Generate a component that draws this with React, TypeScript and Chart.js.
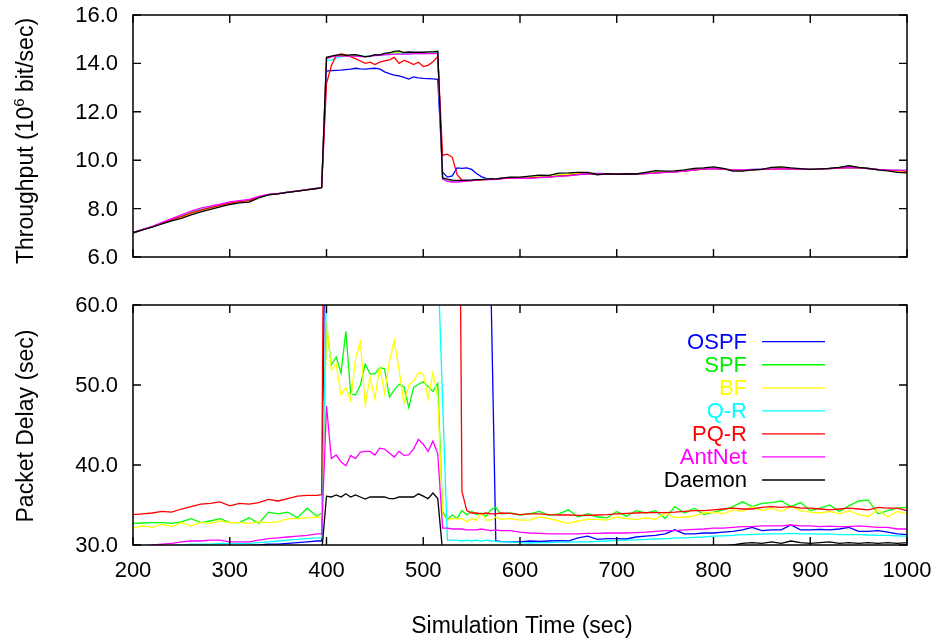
import { useEffect, useRef } from "react";
import { Chart, registerables } from "chart.js";

Chart.register(...registerables);

// ---------- data ----------
const times = [
  200, 210, 220, 230, 240, 250, 260, 270, 280, 290, 300, 310, 320, 330, 340, 350, 360, 370, 380, 390,
  395, 400, 405, 410, 415, 420, 425, 430, 435, 440, 445, 450, 455, 460, 465, 470, 475, 480, 485, 490,
  495, 500, 505, 510, 515, 520, 525, 530, 535, 540, 545, 550, 555, 560, 565, 570, 575, 580,
  590, 600, 610, 620, 630, 640, 650, 660, 670, 680, 690, 700, 710, 720, 730, 740, 750, 760, 770, 780,
  790, 800, 810, 820, 830, 840, 850, 860, 870, 880, 890, 900, 910, 920, 930, 940, 950, 960, 970, 980,
  990, 1000,
];

const xTicks = [200, 300, 400, 500, 600, 700, 800, 900, 1000];
const throughputTicks = [6, 8, 10, 12, 14, 16];
const delayTicks = [30, 40, 50, 60];

const seriesNames = ["OSPF", "SPF", "BF", "Q-R", "PQ-R", "AntNet", "Daemon"];
const seriesColors = ["#0000ff", "#00ff00", "#ffff00", "#00ffff", "#ff0000", "#ff00ff", "#000000"];
const legendTextColors = ["#0000ff", "#00ee00", "#ffff00", "#00ffff", "#ff0000", "#ff00ff", "#000000"];

// Throughput (10^6 bit/sec)
const thrOSPF = [
  7.00, 7.13, 7.25, 7.40, 7.54, 7.67, 7.82, 7.94, 8.04, 8.13, 8.23, 8.29, 8.33, 8.47, 8.58, 8.62, 8.68, 8.72, 8.78, 8.84,
  8.87, 13.68, 13.70, 13.71, 13.72, 13.74, 13.76, 13.80, 13.77, 13.76, 13.78, 13.80, 13.77, 13.65, 13.58, 13.52, 13.48, 13.42, 13.35, 13.44, 13.40, 13.38, 13.37, 13.36, 13.34,
  9.50, 9.30, 9.35, 9.68, 9.66, 9.68, 9.62, 9.45, 9.32, 9.25, 9.22, 9.22, 9.24,
  9.28, 9.27, 9.28, 9.30, 9.32, 9.35, 9.38, 9.42, 9.45, 9.44, 9.43, 9.42, 9.43, 9.43, 9.46, 9.49, 9.51, 9.53, 9.56, 9.60, 9.64,
  9.66, 9.63, 9.59, 9.58, 9.61, 9.62, 9.64, 9.66, 9.65, 9.63, 9.62, 9.63, 9.65, 9.67, 9.70, 9.68, 9.65, 9.61, 9.58, 9.56, 9.54,
];
const thrSPF = [
  7.00, 7.13, 7.25, 7.40, 7.54, 7.67, 7.82, 7.94, 8.04, 8.13, 8.23, 8.29, 8.33, 8.47, 8.58, 8.62, 8.68, 8.72, 8.78, 8.84,
  8.87, 14.22, 14.28, 14.32, 14.33, 14.32, 14.33, 14.33, 14.30, 14.28, 14.30, 14.34, 14.34, 14.38, 14.40, 14.43, 14.44, 14.42, 14.42, 14.43, 14.44, 14.43, 14.44, 14.44, 14.46,
  9.25, 9.18, 9.14, 9.14, 9.15, 9.16, 9.17, 9.19, 9.20, 9.21, 9.22, 9.22, 9.25,
  9.29, 9.28, 9.30, 9.33, 9.34, 9.40, 9.42, 9.45, 9.47, 9.42, 9.44, 9.42, 9.43, 9.43, 9.47, 9.52, 9.52, 9.54, 9.58, 9.63, 9.66,
  9.69, 9.65, 9.58, 9.58, 9.61, 9.62, 9.66, 9.68, 9.66, 9.64, 9.62, 9.63, 9.66, 9.69, 9.73, 9.70, 9.66, 9.61, 9.58, 9.55, 9.53,
];
const thrBF = [
  7.00, 7.13, 7.25, 7.39, 7.53, 7.66, 7.81, 7.93, 8.03, 8.12, 8.22, 8.28, 8.32, 8.46, 8.58, 8.62, 8.68, 8.72, 8.78, 8.84,
  8.87, 14.22, 14.28, 14.31, 14.33, 14.31, 14.32, 14.33, 14.30, 14.28, 14.30, 14.33, 14.34, 14.37, 14.39, 14.42, 14.43, 14.41, 14.41, 14.42, 14.43, 14.42, 14.43, 14.43, 14.45,
  9.25, 9.17, 9.13, 9.13, 9.14, 9.16, 9.17, 9.19, 9.20, 9.21, 9.22, 9.22, 9.25,
  9.29, 9.28, 9.29, 9.32, 9.33, 9.39, 9.41, 9.45, 9.47, 9.43, 9.44, 9.42, 9.43, 9.43, 9.46, 9.51, 9.52, 9.54, 9.58, 9.62, 9.66,
  9.69, 9.65, 9.58, 9.58, 9.61, 9.62, 9.66, 9.68, 9.66, 9.64, 9.62, 9.63, 9.66, 9.69, 9.73, 9.70, 9.66, 9.61, 9.58, 9.55, 9.52,
];
const thrQR = [
  7.00, 7.13, 7.26, 7.41, 7.56, 7.70, 7.85, 7.97, 8.06, 8.15, 8.25, 8.31, 8.35, 8.48, 8.58, 8.62, 8.68, 8.72, 8.78, 8.84,
  8.87, 14.10, 14.15, 14.22, 14.28, 14.30, 14.31, 14.31, 14.29, 14.29, 14.31, 14.33, 14.34, 14.36, 14.37, 14.39, 14.39, 14.39, 14.40, 14.41, 14.41, 14.41, 14.42, 14.42, 14.43,
  9.24, 9.15, 9.12, 9.12, 9.13, 9.15, 9.17, 9.19, 9.21, 9.21, 9.21, 9.22, 9.24,
  9.28, 9.26, 9.26, 9.29, 9.31, 9.34, 9.36, 9.41, 9.44, 9.45, 9.44, 9.42, 9.43, 9.43, 9.45, 9.48, 9.50, 9.52, 9.55, 9.60, 9.64,
  9.66, 9.64, 9.60, 9.60, 9.62, 9.63, 9.63, 9.64, 9.64, 9.62, 9.62, 9.63, 9.66, 9.68, 9.70, 9.69, 9.66, 9.62, 9.60, 9.59, 9.58,
];
const thrPQR = [
  7.00, 7.13, 7.25, 7.40, 7.54, 7.67, 7.82, 7.94, 8.04, 8.13, 8.23, 8.29, 8.33, 8.47, 8.58, 8.62, 8.68, 8.72, 8.78, 8.84,
  8.87, 13.17, 13.90, 14.33, 14.39, 14.35, 14.27, 14.20, 14.10, 14.00, 14.05, 13.95, 14.05, 14.10, 14.15, 14.25, 14.00, 14.12, 14.05, 13.95, 14.05, 13.87, 13.92, 14.07, 14.28,
  10.20, 10.25, 10.12, 9.40, 9.18, 9.16, 9.16, 9.18, 9.19, 9.20, 9.22, 9.21, 9.24,
  9.27, 9.26, 9.27, 9.29, 9.31, 9.34, 9.37, 9.41, 9.44, 9.44, 9.43, 9.42, 9.42, 9.43, 9.45, 9.48, 9.50, 9.52, 9.55, 9.59, 9.63,
  9.65, 9.63, 9.59, 9.58, 9.60, 9.62, 9.63, 9.65, 9.64, 9.62, 9.62, 9.63, 9.65, 9.67, 9.69, 9.68, 9.65, 9.61, 9.59, 9.57, 9.55,
];
const thrAntNet = [
  7.00, 7.14, 7.27, 7.43, 7.59, 7.74, 7.90, 8.02, 8.10, 8.18, 8.28, 8.33, 8.38, 8.50, 8.59, 8.62, 8.68, 8.73, 8.78, 8.84,
  8.87, 14.20, 14.27, 14.30, 14.30, 14.30, 14.30, 14.30, 14.28, 14.28, 14.30, 14.32, 14.33, 14.35, 14.36, 14.38, 14.38, 14.38, 14.38, 14.40, 14.40, 14.40, 14.40, 14.40, 14.42,
  9.22, 9.13, 9.10, 9.10, 9.12, 9.14, 9.16, 9.18, 9.20, 9.20, 9.20, 9.21, 9.23,
  9.27, 9.25, 9.25, 9.28, 9.30, 9.33, 9.35, 9.40, 9.44, 9.45, 9.44, 9.42, 9.43, 9.43, 9.45, 9.47, 9.50, 9.52, 9.55, 9.60, 9.64,
  9.66, 9.64, 9.60, 9.60, 9.62, 9.63, 9.63, 9.64, 9.64, 9.62, 9.62, 9.63, 9.66, 9.68, 9.70, 9.69, 9.66, 9.62, 9.60, 9.59, 9.58,
];
const thrDaemon = [
  7.00, 7.12, 7.23, 7.37, 7.49, 7.60, 7.74, 7.86, 7.97, 8.07, 8.17, 8.24, 8.27, 8.44, 8.57, 8.61, 8.67, 8.72, 8.77, 8.83,
  8.87, 14.25, 14.30, 14.34, 14.36, 14.33, 14.35, 14.36, 14.32, 14.27, 14.30, 14.36, 14.35, 14.41, 14.44, 14.50, 14.52, 14.45, 14.47, 14.46, 14.47, 14.46, 14.48, 14.48, 14.50,
  9.27, 9.22, 9.18, 9.17, 9.17, 9.18, 9.18, 9.20, 9.20, 9.22, 9.24, 9.22, 9.26,
  9.30, 9.30, 9.34, 9.38, 9.37, 9.47, 9.48, 9.50, 9.50, 9.40, 9.44, 9.42, 9.44, 9.43, 9.50, 9.57, 9.55, 9.56, 9.60, 9.66, 9.68,
  9.72, 9.66, 9.55, 9.55, 9.60, 9.62, 9.70, 9.72, 9.68, 9.65, 9.62, 9.64, 9.66, 9.70, 9.77, 9.70, 9.66, 9.60, 9.56, 9.50, 9.48,
];

// Packet Delay (sec) — values above 60 run off the top of the plot
const delOSPF = [
  29.5, 29.5, 29.5, 29.5, 29.5, 29.5, 29.5, 29.5, 29.5, 29.5, 29.5, 29.9, 29.95, 30.0, 30.1, 30.1, 30.2, 30.3, 30.4, 30.5,
  30.5, 90, 90, 90, 90, 90, 90, 90, 90, 90, 90, 90, 90, 90, 90, 90, 90, 90, 90, 90, 90, 90, 90, 90, 90,
  90, 90, 90, 90, 90, 90, 90, 90, 90, 90, 62, 30.5, 30.45,
  30.4, 30.4, 30.5, 30.45, 30.5, 30.55, 30.5, 30.9, 31.1, 30.7, 30.8, 30.8, 30.75, 31.0, 31.1, 31.2, 31.4, 31.9, 31.4, 31.4, 31.5,
  31.5, 31.6, 31.7, 31.9, 32.2, 31.8, 31.9, 31.9, 32.5, 31.9, 31.9, 31.95, 31.9, 32.0, 32.2, 31.7, 31.7, 31.8, 31.6, 31.4, 31.3,
];
const delSPF = [
  32.7, 32.75, 32.8, 32.8, 32.7, 32.9, 33.3, 32.8, 33.0, 33.3, 32.8, 32.8, 33.4, 32.7, 34.1, 33.9, 34.1, 33.4, 34.6, 33.6,
  34.0, 57.5, 52.5, 53.5, 51.5, 56.7, 48.9, 48.75, 50.0, 52.6, 51.4, 51.4, 52.2, 52.0, 48.5, 49.4, 50.1, 49.8, 47.2, 49.7, 50.1, 50.4, 49.8, 49.2, 50.2,
  34.2, 33.2, 33.75, 33.3, 34.3, 33.75, 34.2, 33.8, 34.0, 33.6, 34.4, 34.7, 33.9,
  34.0, 33.75, 33.9, 34.2, 33.7, 33.9, 34.4, 33.5, 33.9, 33.5, 33.4, 34.2, 33.6, 34.3, 34.0, 34.3, 33.3, 34.8, 34.0, 34.6, 33.8,
  34.1, 34.4, 34.8, 35.4, 34.8, 35.2, 35.3, 35.5, 34.8, 35.3, 34.3, 34.6, 35.0, 34.2, 34.9, 35.5, 35.6, 33.9, 34.3, 34.6, 34.7,
];
const delBF = [
  32.1, 32.4, 32.2, 32.6, 32.3, 32.8, 32.4, 32.8, 32.7, 33.0, 32.8, 32.8, 32.7, 32.9, 32.8, 32.9, 33.3, 33.3, 33.4, 33.5,
  33.4, 57.9, 51.9, 52.6, 48.75, 49.7, 48.1, 53.3, 55.4, 47.5, 51.0, 48.3, 52.3, 49.0, 52.9, 55.6, 51.9, 47.7, 50.0, 50.5, 51.5, 51.4, 48.3, 51.5, 48.5,
  33.8, 33.1, 33.3, 33.3, 33.3, 32.9, 33.3, 33.1, 34.0, 33.1, 33.1, 33.5, 33.2,
  33.3, 33.1, 33.1, 33.5, 33.3, 33.0, 32.7, 33.0, 33.2, 33.2, 33.1, 33.5, 33.3, 33.2, 33.4, 33.2, 34.0, 33.4, 33.5, 33.6, 34.0,
  34.1, 33.9, 34.4, 34.2, 34.8, 34.3, 34.6, 34.2, 34.8, 34.3, 34.1, 34.0, 34.2, 33.9, 34.3, 33.8, 33.6, 34.4, 33.5, 34.2, 33.9,
];
const delQR = [
  29.6, 29.7, 29.8, 29.9, 29.9, 30.0, 30.1, 30.1, 30.1, 30.2, 30.2, 30.2, 30.2, 30.3, 30.4, 30.5, 30.6, 30.7, 30.8, 30.9,
  30.9, 62, 150, 150, 150, 150, 150, 150, 150, 150, 150, 150, 150, 150, 150, 150, 150, 150, 150, 150, 150, 150, 150, 150, 66,
  48, 30.6, 30.6, 30.6, 30.5, 30.6, 30.5, 30.6, 30.5, 30.6, 30.5, 30.45, 30.4,
  30.4, 30.3, 30.25, 30.3, 30.3, 30.35, 30.35, 30.4, 30.4, 30.45, 30.5, 30.55, 30.6, 30.65, 30.7, 30.75, 30.8, 30.85, 30.9, 30.95, 31.0,
  31.1, 31.15, 31.2, 31.3, 31.3, 31.35, 31.4, 31.4, 31.45, 31.4, 31.4, 31.35, 31.4, 31.3, 31.3, 31.3, 31.25, 31.2, 31.2, 31.15, 31.1,
];
const delPQR = [
  33.8, 33.9, 34.0, 34.2, 34.1, 34.5, 34.8, 35.1, 35.2, 35.4, 34.9, 35.2, 35.1, 35.3, 35.7, 35.5, 35.8, 36.1, 36.2, 36.2,
  36.3, 120, 120, 120, 120, 120, 120, 120, 120, 120, 120, 120, 120, 120, 120, 120, 120, 120, 120, 120, 120, 120, 120, 120, 120,
  120, 120, 120, 120, 36.7, 34.3, 34.0, 34.0, 33.9, 34.0, 33.9, 33.9, 34.0,
  33.95, 33.8, 33.9, 33.9, 33.8, 33.75, 33.75, 33.7, 33.7, 33.75, 33.8, 33.9, 33.95, 34.0, 34.05, 34.05, 34.05, 34.1, 34.2, 34.3, 34.3,
  34.4, 34.5, 34.6, 34.5, 34.5, 34.7, 34.8, 34.7, 34.8, 34.6, 34.6, 34.5, 34.4, 34.5, 34.6, 34.5, 34.4, 34.7, 34.6, 34.6, 34.3,
];
const delAntNet = [
  29.7, 29.8, 30.0, 30.1, 30.2, 30.4, 30.5, 30.5, 30.6, 30.6, 30.4, 30.4, 30.4, 30.6, 30.8, 30.9, 31.0, 31.1, 31.2, 31.4,
  31.4, 47.4, 40.8, 41.25, 40.4, 39.9, 41.2, 40.8, 41.6, 41.7, 41.7, 41.25, 42.1, 42.0, 41.5, 41.0, 41.7, 41.2, 41.25, 42.0, 43.2, 42.6, 41.7, 43.0, 41.4,
  32.1, 32.1, 32.0, 32.0, 32.0, 31.9, 31.9, 31.9, 32.0, 31.9, 31.8, 31.9, 31.8,
  31.8, 31.6, 31.5, 31.45, 31.4, 31.4, 31.4, 31.4, 31.45, 31.45, 31.5, 31.5, 31.5, 31.55, 31.6, 31.7, 31.8, 31.8, 31.9, 31.95, 32.0,
  32.1, 32.1, 32.2, 32.3, 32.3, 32.4, 32.4, 32.4, 32.5, 32.4, 32.4, 32.3, 32.35, 32.3, 32.3, 32.4, 32.3, 32.2, 32.2, 32.0, 32.0,
];
const delDaemon = [
  29.2, 29.3, 29.2, 29.4, 29.3, 29.4, 29.5, 29.4, 29.5, 29.6, 29.5, 29.6, 29.6, 29.7, 29.6, 29.7, 29.7, 29.8, 29.7, 29.8,
  29.0, 36.1, 36.0, 36.25, 36.0, 36.4, 36.0, 36.25, 36.0, 35.75, 36.0, 36.0, 36.0, 36.0, 35.8, 35.8, 36.0, 36.0, 36.0, 36.0, 36.4, 36.1, 35.8, 36.5, 35.8,
  29.2, 29.3, 29.2, 29.3, 29.2, 29.3, 29.3, 29.2, 29.3, 29.3, 29.4, 29.3, 29.4,
  29.4, 29.5, 29.4, 29.5, 29.5, 29.6, 29.5, 29.6, 29.6, 29.6, 29.7, 29.6, 29.7, 29.7, 29.7, 29.8, 29.7, 29.8, 29.8, 29.8, 29.9,
  29.8, 29.9, 30.0, 30.2, 30.3, 30.2, 30.4, 30.2, 30.5, 30.3, 30.2, 30.3, 30.4, 30.2, 30.3, 30.2, 30.3, 30.2, 30.3, 30.2, 30.3,
];

const throughputSeries = [thrOSPF, thrSPF, thrBF, thrQR, thrPQR, thrAntNet, thrDaemon];
const delaySeries = [delOSPF, delSPF, delBF, delQR, delPQR, delAntNet, delDaemon];

// ---------- drawing helpers ----------
const FONT = "'Liberation Sans', Arial, Helvetica, sans-serif";
const PLOT_LEFT = 133;
const PLOT_RIGHT_PAD = 29;

function buildDatasets(series: number[][]) {
  return series.map((vals, i) => ({
    label: seriesNames[i],
    data: times.map((t, j) => ({ x: t, y: vals[j] })),
    borderColor: seriesColors[i],
    backgroundColor: seriesColors[i],
    borderWidth: 1.3,
    pointRadius: 0,
    tension: 0,
    fill: false,
    order: series.length - 1 - i,
  }));
}

// frame, inward ticks and tick labels (positions come from the chart's own scales)
function framePlugin(yTicks: number[], showXLabels: boolean) {
  return {
    id: "frame",
    afterDatasetsDraw(chart: any) {
      const { ctx, chartArea } = chart;
      const { left, right, top, bottom } = chartArea;
      const xs = chart.scales.x;
      const ys = chart.scales.y;
      ctx.save();
      ctx.strokeStyle = "#000";
      ctx.lineWidth = 1.4;
      ctx.beginPath();
      xTicks.forEach((v) => {
        const px = xs.getPixelForValue(v);
        ctx.moveTo(px, bottom);
        ctx.lineTo(px, bottom - 8);
        ctx.moveTo(px, top);
        ctx.lineTo(px, top + 8);
      });
      yTicks.forEach((v) => {
        const py = ys.getPixelForValue(v);
        ctx.moveTo(left, py);
        ctx.lineTo(left + 8, py);
        ctx.moveTo(right, py);
        ctx.lineTo(right - 8, py);
      });
      ctx.stroke();
      ctx.lineWidth = 1.5;
      ctx.strokeRect(left, top, right - left, bottom - top);

      ctx.fillStyle = "#000";
      ctx.font = `22px ${FONT}`;
      ctx.textAlign = "right";
      ctx.textBaseline = "middle";
      yTicks.forEach((v) => {
        ctx.fillText(v.toFixed(1), left - 15, ys.getPixelForValue(v) + 1);
      });
      if (showXLabels) {
        ctx.textAlign = "center";
        xTicks.forEach((v) => {
          ctx.fillText(String(v), xs.getPixelForValue(v), bottom + 26);
        });
      }
      ctx.restore();
    },
  };
}

function drawRotated(ctx: CanvasRenderingContext2D, cx: number, cy: number, parts: { text: string; size: number; rise: number }[]) {
  ctx.save();
  let total = 0;
  const widths = parts.map((p) => {
    ctx.font = `${p.size}px ${FONT}`;
    const w = ctx.measureText(p.text).width;
    total += w;
    return w;
  });
  ctx.translate(cx, cy);
  ctx.rotate(-Math.PI / 2);
  ctx.fillStyle = "#000";
  ctx.textAlign = "left";
  ctx.textBaseline = "alphabetic";
  let x = -total / 2;
  parts.forEach((p, i) => {
    ctx.font = `${p.size}px ${FONT}`;
    ctx.fillText(p.text, x, 8 - p.rise);
    x += widths[i];
  });
  ctx.restore();
}

const topTitlePlugin = {
  id: "topTitle",
  afterDraw(chart: any) {
    drawRotated(chart.ctx, 25, 141, [
      { text: "Throughput (10", size: 23, rise: 0 },
      { text: "6", size: 15, rise: 9 },
      { text: " bit/sec)", size: 23, rise: 0 },
    ]);
  },
};

const bottomTitlePlugin = {
  id: "bottomTitle",
  afterDraw(chart: any) {
    const ctx = chart.ctx as CanvasRenderingContext2D;
    drawRotated(ctx, 25, 136, [{ text: "Packet Delay (sec)", size: 23, rise: 0 }]);
    ctx.save();
    ctx.fillStyle = "#000";
    ctx.font = `23px ${FONT}`;
    ctx.textAlign = "center";
    ctx.textBaseline = "middle";
    ctx.fillText("Simulation Time (sec)", 522, 337);
    // legend
    ctx.font = `22px ${FONT}`;
    ctx.textAlign = "right";
    seriesNames.forEach((name, i) => {
      const y = 51.7 + i * 23.05;
      ctx.fillStyle = legendTextColors[i];
      ctx.fillText(name, 747, y + 1);
      ctx.strokeStyle = seriesColors[i];
      ctx.lineWidth = 1.3;
      ctx.beginPath();
      ctx.moveTo(762, y);
      ctx.lineTo(825, y);
      ctx.stroke();
    });
    ctx.restore();
  },
};

function makeConfig(series: number[][], yMin: number, yMax: number, yTicks: number[], showX: boolean, bottomPad: number, xHeight: number, extra: any) {
  return {
    type: "line" as const,
    data: { datasets: buildDatasets(series) },
    options: {
      animation: false as const,
      responsive: false,
      maintainAspectRatio: false,
      layout: { padding: { left: 0, right: PLOT_RIGHT_PAD, top: 15, bottom: bottomPad } },
      plugins: { legend: { display: false }, tooltip: { enabled: false } },
      scales: {
        x: {
          type: "linear" as const,
          min: 200,
          max: 1000,
          grid: { display: false, drawTicks: false },
          border: { display: false },
          afterBuildTicks: (s: any) => {
            s.ticks = xTicks.map((v) => ({ value: v }));
          },
          afterFit: (s: any) => {
            s.height = xHeight;
          },
          ticks: { display: false },
        },
        y: {
          type: "linear" as const,
          min: yMin,
          max: yMax,
          grid: { display: false, drawTicks: false },
          border: { display: false },
          afterBuildTicks: (s: any) => {
            s.ticks = yTicks.map((v) => ({ value: v }));
          },
          afterFit: (s: any) => {
            s.width = PLOT_LEFT;
          },
          ticks: { display: false },
        },
      },
    },
    plugins: [framePlugin(yTicks, showX), extra],
  };
}

export default function App() {
  const topRef = useRef<HTMLCanvasElement | null>(null);
  const bottomRef = useRef<HTMLCanvasElement | null>(null);

  useEffect(() => {
    if (!topRef.current || !bottomRef.current) return;
    const top = new Chart(
      topRef.current,
      makeConfig(throughputSeries, 6, 16, throughputTicks, false, 33, 0, topTitlePlugin) as any
    );
    const bottom = new Chart(
      bottomRef.current,
      makeConfig(delaySeries, 30, 60, delayTicks, true, 0, 96, bottomTitlePlugin) as any
    );
    return () => {
      top.destroy();
      bottom.destroy();
    };
  }, []);

  return (
    <div style={{ position: "absolute", left: 0, top: 0, width: 936, height: 641, background: "#fff" }}>
      <canvas ref={topRef} width={936} height={290} style={{ position: "absolute", left: 0, top: 0, display: "block" }} />
      <canvas ref={bottomRef} width={936} height={351} style={{ position: "absolute", left: 0, top: 290, display: "block" }} />
    </div>
  );
}
